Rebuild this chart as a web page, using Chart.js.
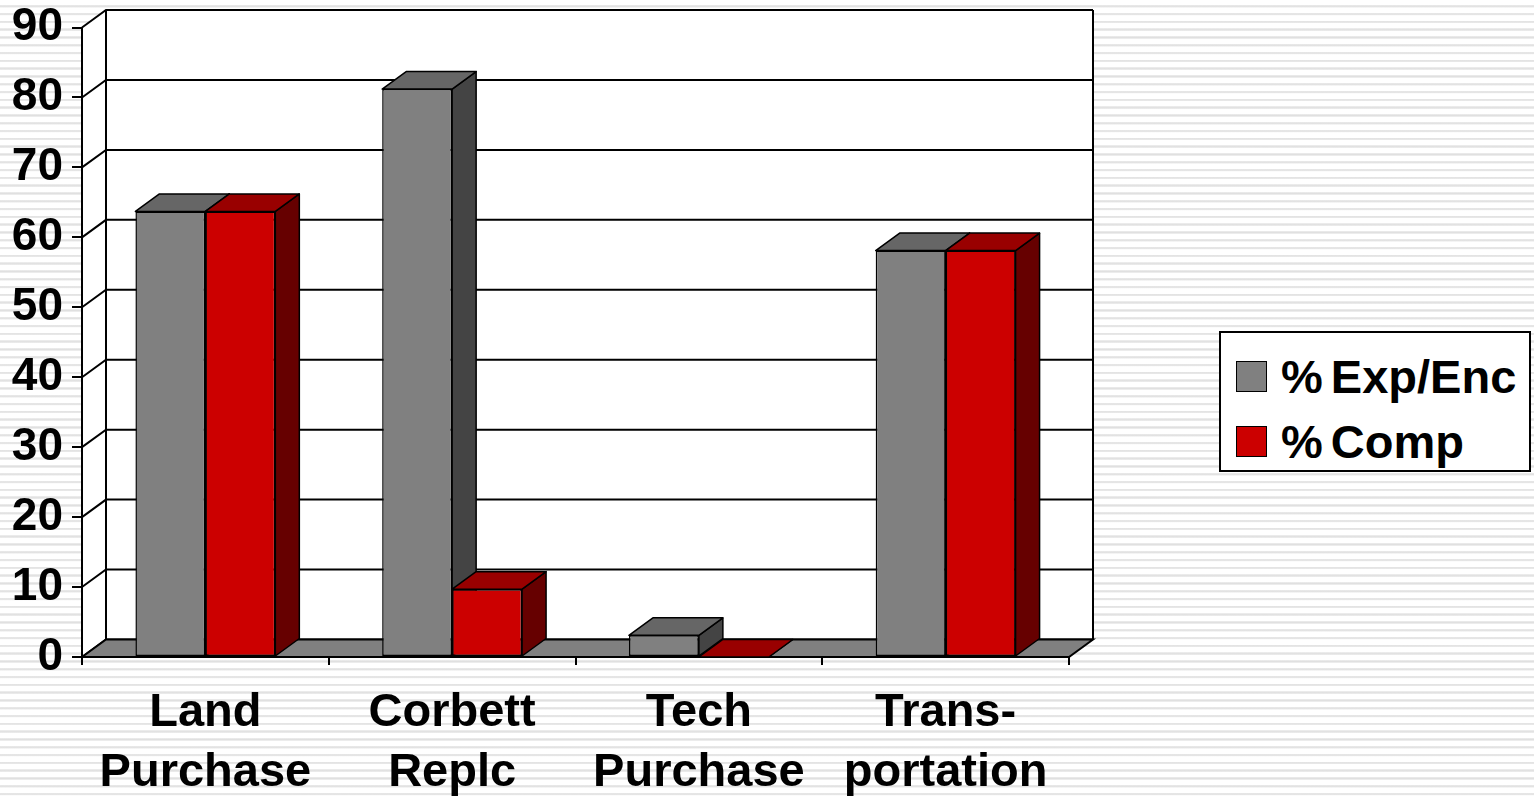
<!DOCTYPE html>
<html>
<head>
<meta charset="utf-8">
<script src="https://cdn.jsdelivr.net/npm/chart.js@4"></script>
<style>
  html, body { margin: 0; padding: 0; }
  body {
    width: 1534px; height: 797px; overflow: hidden; position: relative;
    background: #fff repeating-linear-gradient(to bottom,
      #ffffff 0px, #ffffff 5px, #ececec 5px, #e0e0e0 6.3px, #ececec 7.3px, #ffffff 7.8px);
    font-family: "Liberation Sans", Arial, sans-serif;
  }
  #wrap { position: absolute; left: 0; top: 0; width: 1534px; height: 797px; }
  #legend {
    position: absolute; left: 1219px; top: 331px; width: 312px; height: 141px;
    box-sizing: border-box; border: 2px solid #000; background: #fff;
    padding: 11px 0 0 15px;
  }
  .item { display: flex; align-items: center; height: 65px; }
  .swatch { width: 29px; height: 29px; border: 1.5px solid #000; margin-right: 14px; }
  .label { font-weight: bold; font-size: 47px; word-spacing: -5px; color: #000; }
</style>
</head>
<body>
<div id="wrap"><canvas id="myChart" width="1534" height="797"></canvas></div>
<div id="legend"></div>
<script>
const categories = [['Land', 'Purchase'], ['Corbett', 'Replc'], ['Tech', 'Purchase'], ['Trans-', 'portation']]
const expEnc = [63.7, 81.2, 3.1, 58.1]
const comp = [63.7, 9.7, 0, 58.1]
const yMin = 0
const yMax = 90
const yStep = 10

const DX = 24
const DY = 17.5

// walls + floor, drawn before the scales
const walls = {
  id: 'walls',
  beforeDraw(chart) {
    const ctx = chart.ctx
    const ca = chart.chartArea
    const y = chart.scales.y
    const top = y.getPixelForValue(yMax)
    const bot = y.getPixelForValue(yMin)
    ctx.save()
    ctx.fillStyle = '#fff'
    ctx.beginPath()
    ctx.moveTo(ca.left, top)
    ctx.lineTo(ca.left + DX, top - DY)
    ctx.lineTo(ca.right + DX, top - DY)
    ctx.lineTo(ca.right + DX, bot - DY)
    ctx.lineTo(ca.right, bot)
    ctx.lineTo(ca.left, bot)
    ctx.closePath()
    ctx.fill()

    ctx.strokeStyle = '#000'
    ctx.lineWidth = 2
    for (let v = yMin; v <= yMax; v += yStep) {
      const py = y.getPixelForValue(v)
      ctx.beginPath()
      ctx.moveTo(ca.left, py)
      ctx.lineTo(ca.left + DX, py - DY)
      ctx.lineTo(ca.right + DX, py - DY)
      ctx.stroke()
    }
    ctx.beginPath()
    ctx.moveTo(ca.left + DX, top - DY)
    ctx.lineTo(ca.left + DX, bot - DY)
    ctx.moveTo(ca.right + DX, top - DY)
    ctx.lineTo(ca.right + DX, bot - DY)
    ctx.stroke()

    // floor
    ctx.fillStyle = '#808080'
    ctx.beginPath()
    ctx.moveTo(ca.left, bot)
    ctx.lineTo(ca.left + DX, bot - DY)
    ctx.lineTo(ca.right + DX, bot - DY)
    ctx.lineTo(ca.right, bot)
    ctx.closePath()
    ctx.fill()
    ctx.stroke()
    ctx.restore()
  },
  // tops and sides of the bars, the front faces come from chart.js on top
  beforeDatasetsDraw(chart) {
    const ctx = chart.ctx
    ctx.save()
    ctx.strokeStyle = '#000'
    ctx.lineWidth = 1.5
    ctx.lineJoin = 'round'
    chart.data.datasets.forEach((ds, i) => {
      const meta = chart.getDatasetMeta(i)
      meta.data.forEach(bar => {
        const p = bar.getProps(['x', 'y', 'base', 'width'], true)
        const x0 = p.x - p.width / 2
        const x1 = p.x + p.width / 2
        ctx.fillStyle = ds.sideColor
        ctx.beginPath()
        ctx.moveTo(x1, p.y)
        ctx.lineTo(x1 + DX, p.y - DY)
        ctx.lineTo(x1 + DX, p.base - DY)
        ctx.lineTo(x1, p.base)
        ctx.closePath()
        ctx.fill()
        ctx.stroke()
        ctx.fillStyle = ds.topColor
        ctx.beginPath()
        ctx.moveTo(x0, p.y)
        ctx.lineTo(x1, p.y)
        ctx.lineTo(x1 + DX, p.y - DY)
        ctx.lineTo(x0 + DX, p.y - DY)
        ctx.closePath()
        ctx.fill()
        ctx.stroke()
      })
    })
    ctx.restore()
  }
}

const ctx = document.getElementById('myChart')

const chart = new Chart(ctx, {
  type: 'bar',
  data: {
    labels: categories,
    datasets: [{
      label: '% Exp/Enc',
      data: expEnc,
      backgroundColor: '#808080',
      topColor: '#666666',
      sideColor: '#444444',
      borderColor: '#000',
      borderWidth: 1.5,
      borderSkipped: false
    }, {
      label: '% Comp',
      data: comp,
      backgroundColor: '#cc0000',
      topColor: '#990000',
      sideColor: '#660000',
      borderColor: '#000',
      borderWidth: 1.5,
      borderSkipped: false
    }]
  },
  options: {
    responsive: false,
    animation: false,
    layout: { padding: { left: 0, right: 465, top: 27.5, bottom: 0 } },
    datasets: { bar: { barPercentage: 1, categoryPercentage: 0.567 } },
    plugins: { legend: { display: false }, tooltip: { enabled: false } },
    scales: {
      x: {
        afterFit: s => { s.height = 140; s.paddingLeft = 0; s.paddingRight = 0 },
        grid: { offset: true, drawOnChartArea: false, tickLength: 8, color: '#000', lineWidth: 2 },
        border: { color: '#000', width: 2 },
        ticks: {
          padding: 18, maxRotation: 0, color: '#000',
          font: { family: '"Liberation Sans", Arial', size: 47, weight: 'bold', lineHeight: 1.28 }
        }
      },
      y: {
        min: yMin,
        max: yMax,
        afterFit: s => { s.width = 82; s.paddingTop = 0; s.paddingBottom = 0 },
        grid: { drawOnChartArea: false, tickLength: 10, color: '#000', lineWidth: 2 },
        border: { color: '#000', width: 2 },
        ticks: {
          stepSize: yStep, padding: 9, color: '#000',
          font: { family: '"Liberation Sans", Arial', size: 46, weight: 'bold', lineHeight: 1 }
        }
      }
    }
  },
  plugins: [walls]
})

// html legend from the datasets
const legend = document.getElementById('legend')
chart.data.datasets.forEach(ds => {
  const row = document.createElement('div')
  row.className = 'item'
  const sw = document.createElement('div')
  sw.className = 'swatch'
  sw.style.background = ds.backgroundColor
  const tx = document.createElement('span')
  tx.className = 'label'
  tx.textContent = ds.label
  row.appendChild(sw)
  row.appendChild(tx)
  legend.appendChild(row)
})
</script>
</body>
</html>
